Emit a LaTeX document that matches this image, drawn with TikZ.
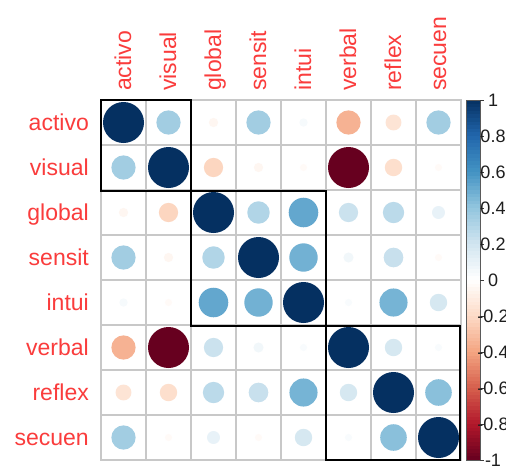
\documentclass[tikz,border=0pt]{standalone}
\usepackage{fontspec}
\setmainfont{Liberation Sans}
\usepackage{tikz}
\usetikzlibrary{positioning}
\definecolor{rb0}{HTML}{67001F}
\definecolor{rb1}{HTML}{B2182B}
\definecolor{rb2}{HTML}{D6604D}
\definecolor{rb3}{HTML}{F4A582}
\definecolor{rb4}{HTML}{FDDBC7}
\definecolor{rb5}{HTML}{FFFFFF}
\definecolor{rb6}{HTML}{D1E5F0}
\definecolor{rb7}{HTML}{92C5DE}
\definecolor{rb8}{HTML}{4393C3}
\definecolor{rb9}{HTML}{2166AC}
\definecolor{rb10}{HTML}{053061}
\definecolor{labred}{RGB}{250,60,60}
% colour of a correlation value, stored in cc
\newcommand{\corcol}[1]{%
  \pgfmathsetmacro{\cct}{(#1+1)*5}%
  \pgfmathtruncatemacro{\cck}{min(floor(\cct),9)}%
  \pgfmathtruncatemacro{\ccp}{round((\cct-\cck)*100)}%
  \pgfmathtruncatemacro{\cckk}{\cck+1}%
  \colorlet{cc}{rb\cckk!\ccp!rb\cck}}
\tikzset{
    gridcell/.style={draw={rgb,255:red,200;green,200;blue,200}, line width=1.3pt},
    clusterbox/.style={draw=black, line width=2pt},
    varlabel/.style={text=labred, font=\fontsize{23}{23}\selectfont, inner sep=0pt},
    barlabel/.style={text={rgb,255:red,30;green,30;blue,30}, font=\fontsize{18}{18}\selectfont, inner sep=0pt},
}
\begin{document}
\begin{tikzpicture}[x=1pt, y=-1pt]
	\useasboundingbox[fill=white] (0,0) rectangle (506,467);
	% grid
	\foreach \i in {1,...,8}
	\foreach \j in {1,...,8}
		\draw[gridcell] ({101+45*(\j-1)},{100+45*(\i-1)}) rectangle ++(45,45);
	% circles
	\foreach \row [count=\i] in {
		{1,.35,-.05,.35,.04,-.35,-.15,.35},
		{.35,1,-.22,-.05,-.03,-1,-.18,-.03},
		{-.05,-.22,1,.3,.52,.22,.27,.1},
		{.35,-.05,.3,1,.48,.06,.23,-.03},
		{.04,-.03,.52,.48,1,.03,.47,.18},
		{-.35,-1,.22,.06,.03,1,.18,.03},
		{-.15,-.18,.27,.23,.47,.18,1,.42},
		{.35,-.03,.1,-.03,.18,.03,.42,1}}
	\foreach \v [count=\j] in \row {
		\corcol{\v}
		\fill[cc] ({78.5+45*\j},{77.5+45*\i}) circle ({20.5*sqrt(abs(\v))});
	}
	% cluster rectangles
	\draw[clusterbox] (101,100) rectangle (191,191);
	\draw[clusterbox] (191,191) rectangle (326,326);
	\draw[clusterbox] (326,326) rectangle (460,460);
	% labels
	\foreach \name [count=\i] in {activo,visual,global,sensit,intui,verbal,reflex,secuen} {
		\node[varlabel, anchor=base east] (row\i) at (89,{85+45*\i}) {\name};
		\node[varlabel, anchor=base west, rotate=90] (col\i) at ({86+45*\i},91) {\name};
	}
	% colour bar
	\foreach \k in {0,...,99} {
		\corcol{-1+(\k+0.5)*0.02}
		\fill[cc] (466,{460-3.6*\k}) rectangle (480,{460-3.6*(\k+1)-0.2});
	}
	\draw[draw={rgb,255:red,90;green,90;blue,90}, line width=0.6pt] (466,100) rectangle (480,460);
	\foreach \t [count=\m] in {1,0.8,0.6,0.4,0.2,0,-0.2,-0.4,-0.6,-0.8,-1} {
		\draw[line width=0.8pt, draw={rgb,255:red,60;green,60;blue,60}] (480,{280-180*\t}) -- (484,{280-180*\t});
		\node[barlabel] (tick\m) at (493,{280-180*\t}) {\t};
	}
\end{tikzpicture}
\end{document}
